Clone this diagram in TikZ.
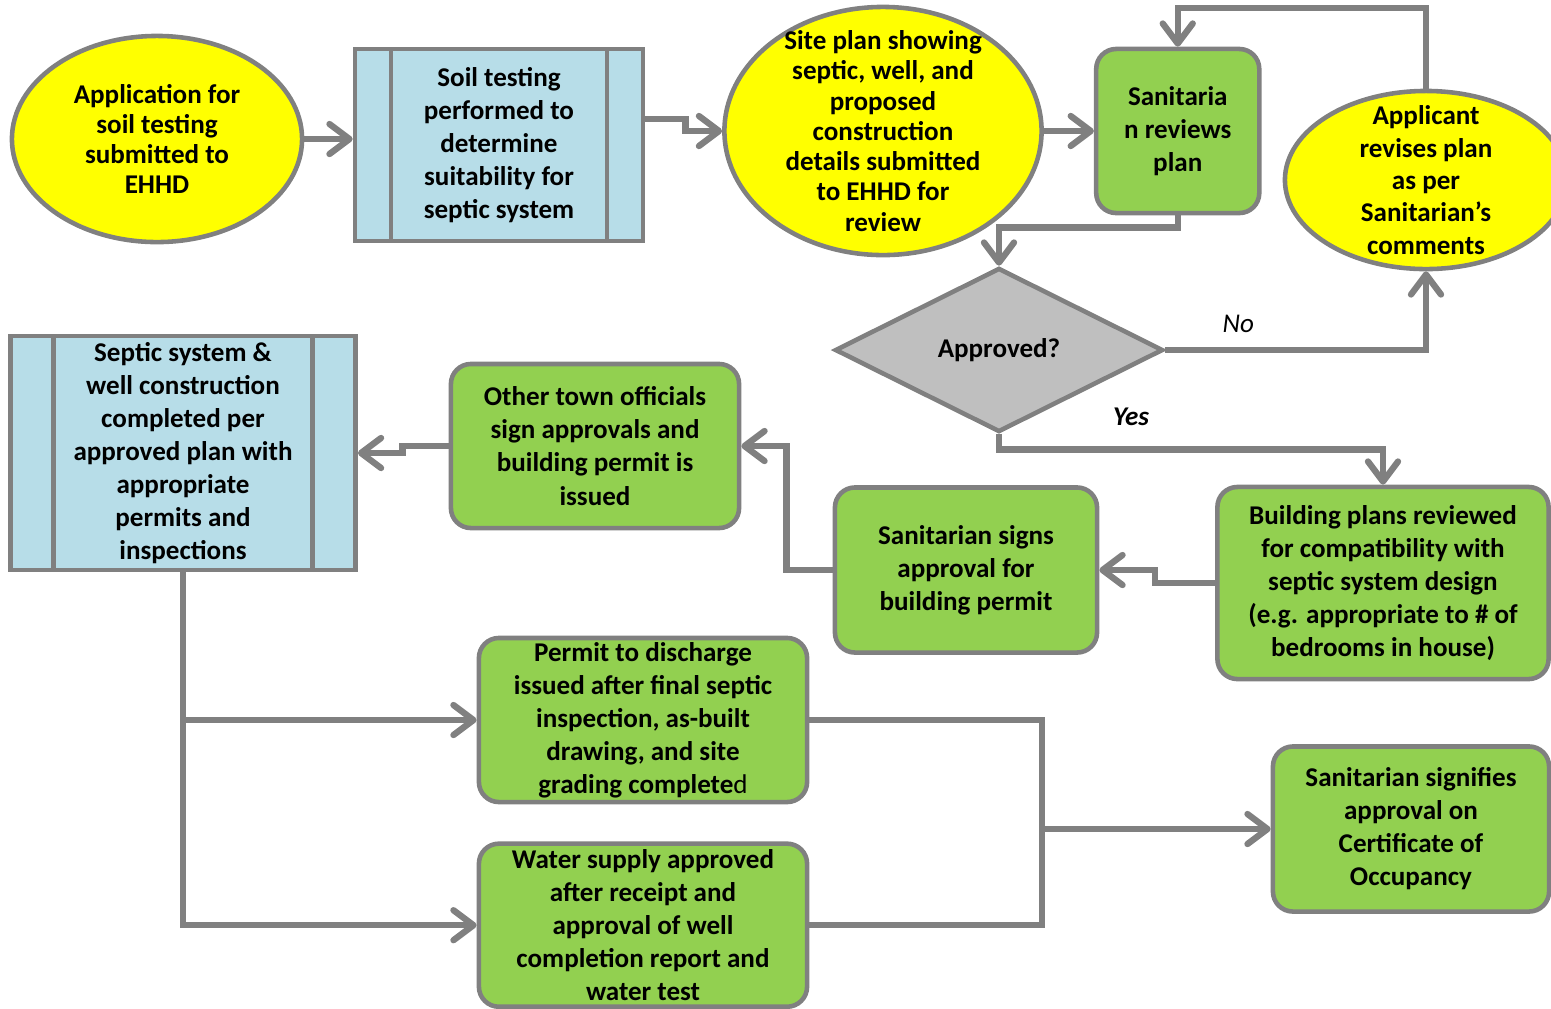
\documentclass[tikz,border=0pt]{standalone}
\usepackage{fontspec}
\setmainfont{Carlito}
\usepackage{tikz}
\usetikzlibrary{positioning}
\usetikzlibrary {arrows.meta}
\usetikzlibrary{shapes.geometric}

\definecolor{lineg}{RGB}{128,128,128}
\definecolor{ovalyel}{RGB}{255,255,0}
\definecolor{subblue}{RGB}{183,221,232}
\definecolor{stepgreen}{RGB}{146,208,80}
\definecolor{decgray}{RGB}{191,191,191}

\tikzset{
    base/.style={draw=lineg, line width=1.3pt, align=center, inner sep=0pt,
        font=\fontsize{7.7}{9.4}\selectfont\bfseries},
    oval/.style={base, ellipse, fill=ovalyel, inner sep=-0.5cm,
        font=\fontsize{7.7}{8.6}\selectfont\bfseries},
    stepbox/.style={base, rectangle, rounded corners=0.2cm, fill=stepgreen},
    decide/.style={base, diamond, fill=decgray},
    subproc/.style={base, rectangle, fill=subblue,
        path picture={\draw[lineg, line width=1.3pt]
            ([xshift=#1]path picture bounding box.north west) -- ([xshift=#1]path picture bounding box.south west)
            ([xshift=-#1]path picture bounding box.north east) -- ([xshift=-#1]path picture bounding box.south east);}},
    conn/.style={draw=lineg, line width=1.8pt},
    arr/.style={conn, -{Straight Barb[length=0.2cm, width=0.3cm, round]}},
    lbl/.style={inner sep=0pt, font=\fontsize{7.7}{9.4}\selectfont\itshape}
}

\begin{document}
\begin{tikzpicture}[x=0.01cm, y=-0.01cm]
    \useasboundingbox (0,0) rectangle (1551,1008);
    %% top row
    \node[oval, minimum width=2.9cm, minimum height=2.06cm] (app) at (157,139)
        {Application for\\soil testing\\submitted to\\EHHD};
    \node[subproc=0.36cm, minimum width=2.88cm, minimum height=1.92cm] (soil) at (499,145)
        {Soil testing\\performed to\\determine\\suitability for\\septic system};
    \node[oval, minimum width=3.17cm, minimum height=2.48cm] (site) at (883,131)
        {Site plan showing\\septic, well, and\\proposed\\construction\\details submitted\\to EHHD for\\review};
    \node[stepbox, minimum width=1.63cm, minimum height=1.64cm, right=0.5cm of site] (sanr)
        {Sanitaria\\n reviews\\plan};
    \node[oval, minimum width=2.82cm, minimum height=1.78cm,
        font=\fontsize{7.7}{9.2}\selectfont\bfseries] (revise) at (1426,180)
        {Applicant\\revises plan\\as per\\Sanitarian’s\\comments};
    \node[decide, minimum width=3.28cm, minimum height=1.64cm] (appr) at (999,350) {Approved?};
    %% middle row
    \node[subproc=0.43cm, minimum width=3.45cm, minimum height=2.34cm] (septic) at (183,453)
        {Septic system \&\\well construction\\completed per\\approved plan with\\appropriate\\permits and\\inspections};
    \node[stepbox, minimum width=2.88cm, minimum height=1.64cm] (other) at (595,446)
        {Other town officials\\sign approvals and\\building permit is\\issued};
    \node[stepbox, minimum width=2.62cm, minimum height=1.65cm] (signs) at (966,570)
        {Sanitarian signs\\approval for\\building permit};
    \node[stepbox, minimum width=3.31cm, minimum height=1.92cm] (bldg) at (1383,583)
        {Building plans reviewed\\for compatibility with\\septic system design\\(e.g. appropriate to \# of\\bedrooms in house)};
    %% bottom rows
    \node[stepbox, minimum width=3.28cm, minimum height=1.64cm] (permit) at (643,720)
        {Permit to discharge\\issued after final septic\\inspection, as-built\\drawing, and site\\grading complete{\mdseries d}};
    \node[stepbox, minimum width=3.28cm, minimum height=1.63cm, below=0.37cm of permit] (water)
        {Water supply approved\\after receipt and\\approval of well\\completion report and\\water test};
    \node[stepbox, minimum width=2.76cm, minimum height=1.65cm] (cert) at (1411,829)
        {Sanitarian signifies\\approval on\\Certificate of\\Occupancy};
    \coordinate (merge) at (1042,829);

    % connectors
    \draw[arr] (app.east) -- (app.east -| soil.west);
    \draw[arr] ([yshift=0.26cm]soil.east) -- ++(40,0) |- (site.west);
    \draw[arr] (site.east) -- (sanr.west);
    \draw[arr] (sanr.south) -- ++(0,12) -| (appr.north);
    \draw[arr] (revise.north) -- ++(0,-81) -| (sanr.north);
    \draw[arr] (appr.east) -| node[lbl, pos=0.14, above=0.14cm] {No} (revise.south);
    \draw[arr] (appr.south) -- ++(0,15) -| node[lbl, pos=0.172, above=0.2cm] {\bfseries Yes} (bldg.north);
    \draw[arr] (bldg.west) -- ++(-60,0) |- (signs.east);
    \draw[arr] (signs.west) -- ++(-46,0) |- (other.east);
    \draw[arr] (other.west) -- ++(-46,0) |- (septic.east);
    \draw[arr] (septic.south) |- (permit.west);
    \draw[arr] (septic.south) |- (water.west);
    \draw[conn] (permit.east) -| (merge) |- (water.east);
    \draw[arr] (merge) -- (cert.west);
\end{tikzpicture}
\end{document}
